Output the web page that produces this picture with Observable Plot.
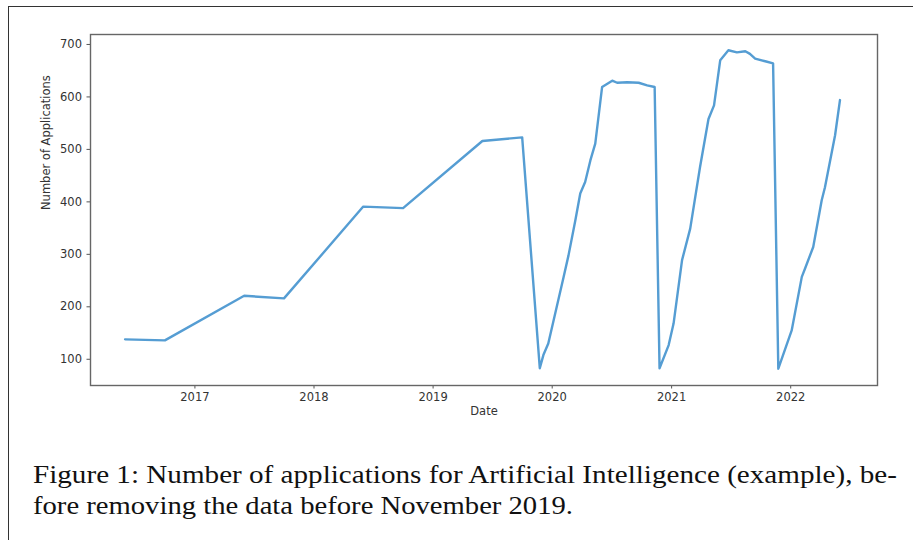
<!DOCTYPE html>
<html>
<head>
<meta charset="utf-8">
<script src="https://cdn.jsdelivr.net/npm/d3@7"></script>
<script src="https://cdn.jsdelivr.net/npm/@observablehq/plot@0.6"></script>
<style>
  html, body { margin: 0; padding: 0; background: #fff; }
  #page { position: relative; width: 913px; height: 540px; overflow: hidden; background: #fff; }
  #border { position: absolute; left: 8px; top: 6px; right: -5px; bottom: -5px; border-top: 1.5px solid #333; border-left: 1.5px solid #333; }
  #chart { position: absolute; left: 0; top: 0; }
  #caption { position: absolute; left: 0; top: 440px; }
</style>
</head>
<body>
<div id="page">
  <div id="border"></div>
  <div id="chart"></div>
  <svg id="caption" width="913" height="100"></svg>
</div>
<script>
// ---- data ----
const dates = [
  "2016-06-01", "2016-10-01", "2017-06-01", "2017-10-01",
  "2018-06-01", "2018-10-01", "2019-06-01", "2019-10-01",
  "2019-11-24", "2019-12-05", "2019-12-20", "2020-02-05", "2020-02-20", "2020-03-12", "2020-03-27",
  "2020-04-11", "2020-04-27", "2020-05-12", "2020-06-02", "2020-07-03", "2020-07-18",
  "2020-08-18", "2020-09-22", "2020-10-18", "2020-11-10",
  "2020-11-25", "2020-12-23", "2021-01-07", "2021-02-02", "2021-02-27", "2021-03-29",
  "2021-04-24", "2021-05-11", "2021-05-30", "2021-06-24", "2021-07-20", "2021-08-15",
  "2021-08-29", "2021-09-14", "2021-10-15", "2021-11-08",
  "2021-11-24", "2022-01-04", "2022-02-04", "2022-02-14", "2022-03-11", "2022-04-06",
  "2022-04-16", "2022-05-17", "2022-06-01"
];
const applications = [
  138, 136, 221, 216,
  391, 388, 516, 523,
  83, 108, 130, 257, 298, 365, 416,
  438, 479, 511, 619, 631, 627,
  628, 627, 622, 619,
  83, 127, 168, 289, 349, 466,
  558, 584, 670, 689, 685, 687,
  682, 673, 668, 664,
  82, 155, 257, 273, 314, 403,
  428, 527, 594
];
const yTicks = [100, 200, 300, 400, 500, 600, 700];
const xTickYears = ["2017", "2018", "2019", "2020", "2021", "2022"];
const xLabel = "Date";
const yLabel = "Number of Applications";
const captionLines = [
  "Figure 1: Number of applications for Artificial Intelligence (example), be-",
  "fore removing the data before November 2019."
];

const data = dates.map((d, i) => ({date: new Date(d), value: applications[i]}));
const xTicks = xTickYears.map(y => new Date(`${y}-01-01`));

const chart = Plot.plot({
  width: 913,
  height: 430,
  marginLeft: 90,
  marginRight: 36,
  marginTop: 34,
  marginBottom: 45,
  style: {fontFamily: "DejaVu Sans, sans-serif", fontSize: "11.5px", color: "#333", background: "transparent"},
  x: {type: "utc", domain: [new Date("2016-02-16"), new Date("2022-09-24")]},
  y: {domain: [50, 719]},
  marks: [
    Plot.axisX({ticks: xTicks, tickFormat: d3.utcFormat("%Y"), tickSize: 3.5, tickPadding: 4, label: null, stroke: "#555", fill: "#333", fontSize: 11.5}),
    Plot.axisY({ticks: yTicks, tickSize: 3.5, tickPadding: 5, label: null, stroke: "#555", fill: "#333", fontSize: 11.5}),
    Plot.line(data, {x: "date", y: "value", stroke: "#559dd3", strokeWidth: 2.4, strokeLinejoin: "round"}),
    Plot.frame({stroke: "#666", strokeWidth: 1.4}),
    Plot.text([xLabel], {frameAnchor: "bottom", dy: 29, fontSize: 11.5, fill: "#333"}),
    Plot.text([yLabel], {frameAnchor: "left", dx: -44, rotate: -90, fontSize: 11.5, fill: "#333"})
  ]
});
document.getElementById("chart").appendChild(chart);

// caption (real text, LaTeX-like serif)
const cap = d3.select("#caption");
const capWidths = [864, 540];
const capBaselines = [43, 74];
captionLines.forEach((t, i) => {
  cap.append("text")
    .attr("x", 33)
    .attr("y", capBaselines[i])
    .attr("font-family", "Liberation Serif, DejaVu Serif, serif")
    .attr("font-size", 26)
    .attr("fill", "#111")
    .attr("textLength", capWidths[i])
    .attr("lengthAdjust", "spacingAndGlyphs")
    .text(t);
});
</script>
</body>
</html>
